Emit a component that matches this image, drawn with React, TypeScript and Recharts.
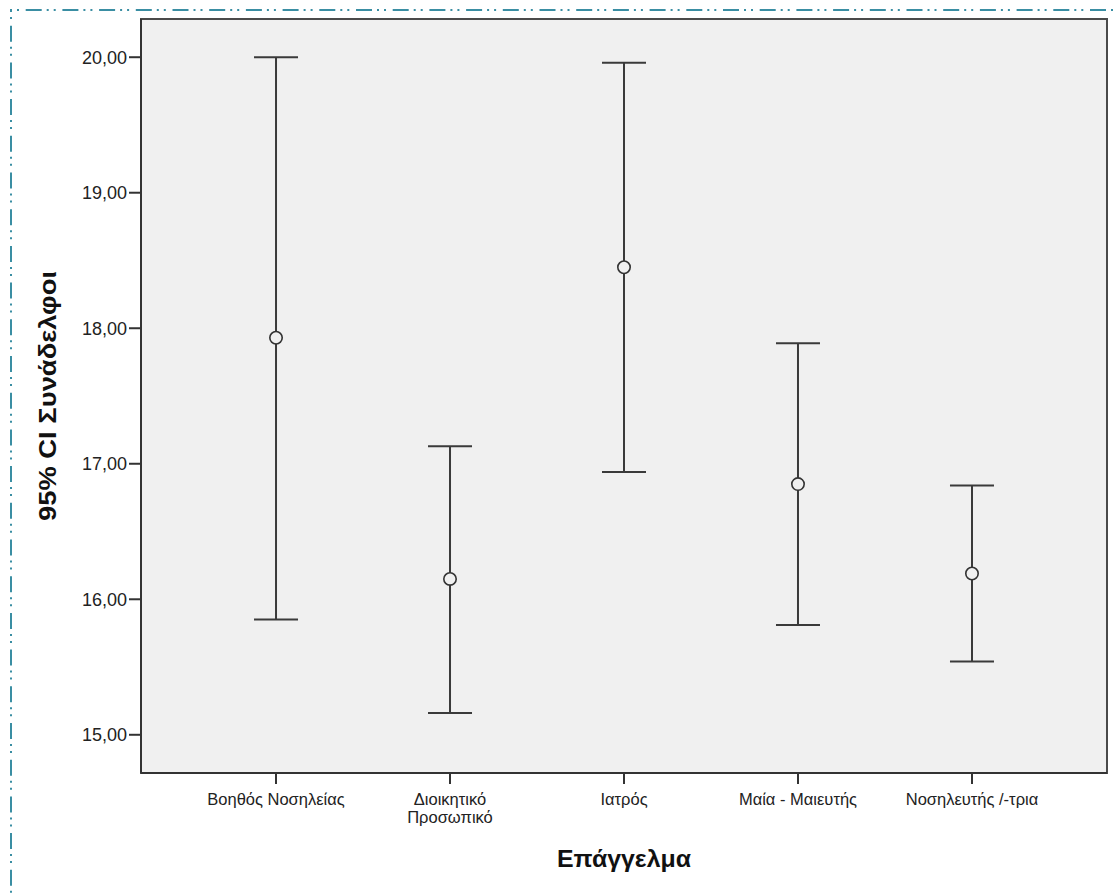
import React from "react";
import {
  ErrorBar,
  Label,
  ReferenceArea,
  Scatter,
  ScatterChart,
  XAxis,
  YAxis,
} from "recharts";

const categories = [
  "Βοηθός Νοσηλείας",
  "Διοικητικό\nΠροσωπικό",
  "Ιατρός",
  "Μαία - Μαιευτής",
  "Νοσηλευτής /-τρια",
];
const means = [17.93, 16.15, 18.45, 16.85, 16.19];
const lowerCI = [15.85, 15.16, 16.94, 15.81, 15.54];
const upperCI = [20.0, 17.13, 19.96, 17.89, 16.84];
const yTicks = [15, 16, 17, 18, 19, 20];

const xTitle = "Επάγγελμα";
const yTitle = "95% CI Συνάδελφοι";

const FONT = "'Liberation Sans', Arial, sans-serif";
const INK = "#333333";
const X_DOMAIN: [number, number] = [-0.776, 4.776];
const Y_DOMAIN: [number, number] = [14.718, 20.282];

const rows = categories.map((name, i) => ({
  x: i,
  name,
  mean: means[i],
  err: [means[i] - lowerCI[i], upperCI[i] - means[i]],
}));

function CategoryTick(props: any) {
  const { x, y, payload } = props;
  const lines = String(categories[payload.value] ?? "").split("\n");
  return (
    <text x={x} y={y + 19} textAnchor="middle" fontFamily={FONT} fontSize={16.5} fill="#222">
      {lines.map((ln, i) => (
        <tspan key={i} x={x} dy={i === 0 ? 0 : 18}>
          {ln}
        </tspan>
      ))}
    </text>
  );
}

function MeanDot(props: any) {
  const { cx, cy } = props;
  if (cx == null || cy == null) return null;
  return <circle cx={cx} cy={cy} r={6.2} fill="#f0f0f0" stroke={INK} strokeWidth={1.6} />;
}

const fmt = (v: number) => v.toFixed(2).replace(".", ",");

export default function App() {
  return (
    <div style={{ position: "relative", width: 1118, height: 895, background: "#fff" }}>
      <style>{"body{margin:0}"}</style>
      <ScatterChart
        width={1118}
        height={895}
        margin={{ top: 19, right: 11, bottom: 62, left: 61 }}
      >
        <ReferenceArea
          x1={X_DOMAIN[0]}
          x2={X_DOMAIN[1]}
          y1={Y_DOMAIN[0]}
          y2={Y_DOMAIN[1]}
          fill="#f0f0f0"
          fillOpacity={1}
          stroke="#4a4a4a"
          strokeWidth={2}
          ifOverflow="extendDomain"
        />
        <XAxis
          type="number"
          dataKey="x"
          domain={X_DOMAIN}
          ticks={[0, 1, 2, 3, 4]}
          allowDataOverflow
          height={60}
          tickSize={11}
          axisLine={{ stroke: INK, strokeWidth: 2 }}
          tickLine={{ stroke: INK, strokeWidth: 2 }}
          tick={<CategoryTick />}
        >
          <Label
            content={(p: any) => {
              const vb = p.viewBox || {};
              return (
                <text
                  x={vb.x + vb.width / 2}
                  y={867}
                  textAnchor="middle"
                  fontFamily={FONT}
                  fontWeight="bold"
                  fontSize={24}
                  fill="#111"
                  textLength={134}
                  lengthAdjust="spacingAndGlyphs"
                >
                  {xTitle}
                </text>
              );
            }}
          />
        </XAxis>
        <YAxis
          type="number"
          dataKey="mean"
          domain={Y_DOMAIN}
          ticks={yTicks}
          allowDataOverflow
          width={80}
          tickSize={12}
          tickMargin={2}
          tickFormatter={fmt}
          axisLine={{ stroke: INK, strokeWidth: 2 }}
          tickLine={{ stroke: INK, strokeWidth: 2 }}
          tick={{ fontFamily: FONT, fontSize: 18, fill: "#222" }}
        >
          <Label
            content={(p: any) => {
              const vb = p.viewBox || {};
              const cy = vb.y + vb.height / 2;
              return (
                <text
                  x={47}
                  y={cy}
                  transform={`rotate(-90 47 ${cy})`}
                  textAnchor="middle"
                  dominantBaseline="central"
                  fontFamily={FONT}
                  fontWeight="bold"
                  fontSize={24}
                  fill="#111"
                  textLength={250}
                  lengthAdjust="spacingAndGlyphs"
                >
                  {yTitle}
                </text>
              );
            }}
          />
        </YAxis>
        <Scatter data={rows} isAnimationActive={false} shape={() => <g />}>
          <ErrorBar
            dataKey="err"
            direction="y"
            width={22}
            stroke="#3a3a3a"
            strokeWidth={2}
            isAnimationActive={false}
          />
        </Scatter>
        <Scatter data={rows} isAnimationActive={false} shape={<MeanDot />} />
      </ScatterChart>
      <svg
        width={1118}
        height={895}
        style={{ position: "absolute", left: 0, top: 0, pointerEvents: "none" }}
      >
        <line x1={10} y1={10} x2={1118} y2={10} stroke="#3a8ea3" strokeWidth={2} strokeDasharray="2 5 2 6.7 16 5" />
        <line x1={11} y1={10} x2={11} y2={895} stroke="#3a8ea3" strokeWidth={2} strokeDasharray="2 5 2 6.7 16 5" />
      </svg>
    </div>
  );
}
